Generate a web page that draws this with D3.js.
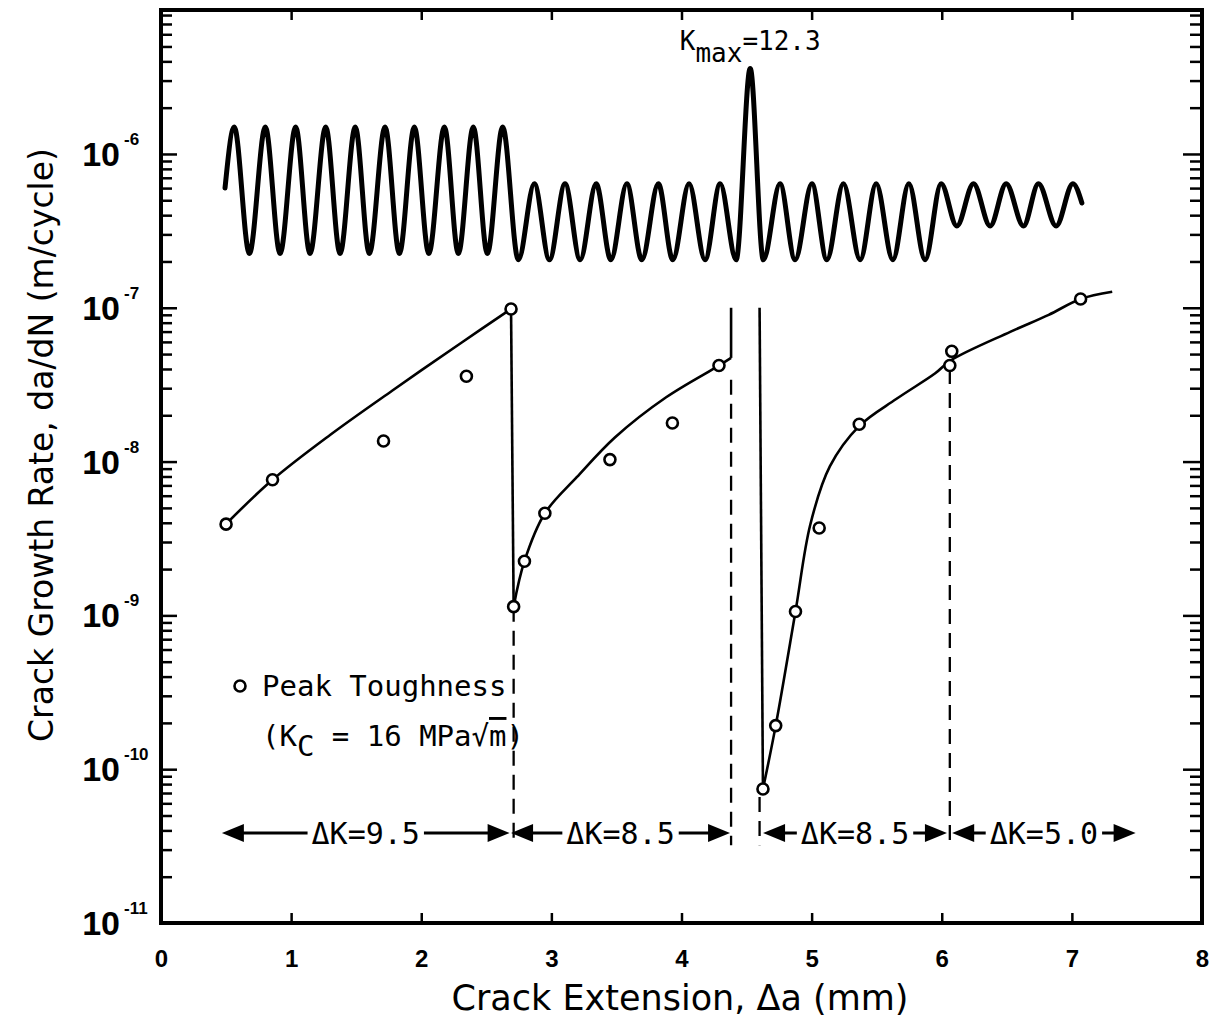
<!DOCTYPE html>
<html>
<head>
<meta charset="utf-8">
<script src="https://cdn.jsdelivr.net/npm/d3@7"></script>
<style>
  body { margin: 0; background: #fff; }
  svg { display: block; }
  .mono { font-family: "DejaVu Sans Mono", monospace; }
</style>
</head>
<body>
<svg id="chart"></svg>
<script>
// measured peak toughness points (crack extension mm, da/dN m/cycle)
const peakX = [0.50, 0.857, 1.71, 2.347, 2.69, 2.71, 2.793, 2.95, 3.45, 3.93, 4.288,
               4.626, 4.724, 4.876, 5.058, 5.366, 6.062, 6.077, 7.067];
const peakRate = [3.92e-9, 7.62e-9, 1.36e-8, 3.59e-8, 9.82e-8, 1.14e-9, 2.25e-9, 4.61e-9, 1.03e-8, 1.78e-8, 4.21e-8,
                  7.43e-11, 1.92e-10, 1.06e-9, 3.70e-9, 1.75e-8, 4.21e-8, 5.21e-8, 1.14e-7];

// hand-fitted curves through the points
const curveAX = [0.50, 0.857, 1.299, 1.776, 2.314, 2.69];
const curveARate = [3.93e-9, 7.62e-9, 1.49e-8, 2.89e-8, 5.97e-8, 9.82e-8];
const curveBX = [2.71, 2.793, 2.95, 3.195, 3.49, 3.882, 4.288, 4.381];
const curveBRate = [1.14e-9, 2.25e-9, 4.61e-9, 7.91e-9, 1.44e-8, 2.62e-8, 4.21e-8, 4.72e-8];
const curveCX = [4.626, 4.724, 4.876, 4.99, 5.14, 5.365, 5.65, 5.95, 6.07, 6.526, 6.822, 7.067, 7.31];
const curveCRate = [7.43e-11, 1.92e-10, 1.06e-9, 3.9e-9, 9.3e-9, 1.70e-8, 2.55e-8, 3.75e-8, 4.55e-8,
                    6.97e-8, 9.0e-8, 1.14e-7, 1.27e-7];

// solid drops [x1, rate1, x2, rate2]
const drops = [
  [2.69, 9.82e-8, 2.71, 1.14e-9],
  [4.381, 1.0e-7, 4.381, 4.72e-8],
  [4.60, 1.0e-7, 4.626, 7.43e-11]
];
// dashed markers [x, rateTop, rateBottom]
const dashes = [
  [2.71, 1.14e-9, 3.2e-11],
  [4.381, 3.4e-8, 3.2e-11],
  [4.60, 6.6e-11, 3.2e-11],
  [6.062, 4.0e-8, 3.2e-11]
];

// loading schematic: turning points of the trace (x mm, rate)
const waveX = [0.492, 0.563, 0.679, 0.802, 0.915, 1.035, 1.145, 1.266, 1.376, 1.493, 1.601, 1.722, 1.832,
               1.947, 2.058, 2.178, 2.285, 2.400, 2.508, 2.626, 2.746, 2.869, 2.985, 3.105, 3.221, 3.344,
               3.457, 3.580, 3.695, 3.822, 3.933, 4.058, 4.181, 4.297, 4.420, 4.528, 4.629, 4.757, 4.873,
               5.002, 5.117, 5.244, 5.373, 5.496, 5.624, 5.747, 5.872, 5.995, 6.116, 6.244, 6.372, 6.495,
               6.628, 6.743, 6.879, 7.008, 7.077];
const waveRate = [6.0e-7, 1.5e-6, 2.25e-7, 1.5e-6, 2.25e-7, 1.5e-6, 2.25e-7, 1.5e-6, 2.25e-7, 1.5e-6, 2.25e-7,
                  1.5e-6, 2.25e-7, 1.5e-6, 2.25e-7, 1.5e-6, 2.25e-7, 1.5e-6, 2.25e-7, 1.5e-6, 2.05e-7,
                  6.4e-7, 2.05e-7, 6.4e-7, 2.05e-7, 6.4e-7, 2.05e-7, 6.4e-7, 2.05e-7, 6.4e-7, 2.05e-7,
                  6.4e-7, 2.05e-7, 6.4e-7, 2.05e-7, 3.6e-6, 2.05e-7, 6.4e-7, 2.05e-7, 6.4e-7, 2.05e-7,
                  6.4e-7, 2.05e-7, 6.4e-7, 2.05e-7, 6.4e-7, 2.05e-7, 6.4e-7, 3.4e-7, 6.4e-7, 3.4e-7,
                  6.4e-7, 3.4e-7, 6.4e-7, 3.4e-7, 6.4e-7, 4.8e-7];
const spikeIndex = 35;

// delta K ranges
const rangeStart = [0.468, 2.69, 4.627, 6.08];
const rangeEnd = [2.679, 4.373, 6.04, 7.49];
const rangeLabel = ["\u0394K=9.5", "\u0394K=8.5", "\u0394K=8.5", "\u0394K=5.0"];
const rangeRate = 3.85e-11;

const xTicks = [0, 1, 2, 3, 4, 5, 6, 7, 8];
const yMajor = [1e-11, 1e-10, 1e-9, 1e-8, 1e-7, 1e-6];
const yExp = ["-11", "-10", "-9", "-8", "-7", "-6"];

const width = 1214, height = 1025;
const svg = d3.select("#chart").attr("width", width).attr("height", height);

const x = d3.scaleLinear().domain([0, 8]).range([161, 1202]);
const y = d3.scaleLog().domain([1e-11, 8.63e-6]).range([923, 10]);

const yMinor = y.ticks().filter(v => yMajor.indexOf(v) < 0 && v < 8.63e-6);

// ticks
function styleAxis(g) {
  g.select(".domain").remove();
  g.selectAll(".tick line").attr("stroke", "#000").attr("stroke-width", 2.5);
}
svg.append("g").attr("transform", "translate(161,0)")
  .call(d3.axisLeft(y).tickValues(yMinor).tickSize(-11).tickFormat("")).call(styleAxis);
svg.append("g").attr("transform", "translate(161,0)")
  .call(d3.axisLeft(y).tickValues(yMajor).tickSize(-16).tickFormat("")).call(styleAxis);
svg.append("g").attr("transform", "translate(1202,0)")
  .call(d3.axisRight(y).tickValues(yMinor).tickSize(-12).tickFormat("")).call(styleAxis);
svg.append("g").attr("transform", "translate(1202,0)")
  .call(d3.axisRight(y).tickValues(yMajor).tickSize(-19).tickFormat("")).call(styleAxis);
svg.append("g").attr("transform", "translate(0,10)")
  .call(d3.axisTop(x).tickValues(xTicks).tickSize(-10).tickFormat("")).call(styleAxis);

let xAxis = svg.append("g").attr("transform", "translate(0,923)")
  .call(d3.axisBottom(x).tickValues(xTicks).tickSizeInner(-10).tickSizeOuter(0).tickPadding(27).tickFormat(d3.format("d")))
  .call(styleAxis);
xAxis.selectAll(".tick text")
  .attr("font-family", "Liberation Sans, Arial, sans-serif")
  .attr("font-weight", "bold").attr("font-size", 24).attr("fill", "#000");

// y tick labels 10^n
let yl = svg.append("g").attr("font-family", "Liberation Sans, Arial, sans-serif").attr("font-weight", "bold");
yMajor.forEach((v, i) => {
  yl.append("text").attr("x", 120).attr("y", y(v) + 12)
    .attr("text-anchor", "end").attr("font-size", 34).text("10");
  yl.append("text").attr("x", 124).attr("y", y(v) - 9)
    .attr("font-size", 17).text(yExp[i]);
});

// frame
svg.append("rect").attr("x", 161).attr("y", 10).attr("width", 1041).attr("height", 913)
  .attr("fill", "none").attr("stroke", "#000").attr("stroke-width", 4);

// axis titles
svg.append("text").attr("x", 680).attr("y", 1010).attr("text-anchor", "middle")
  .attr("font-family", "DejaVu Sans, sans-serif").attr("font-size", 35)
  .text("Crack Extension, \u0394a (mm)");
svg.append("text").attr("transform", "translate(53,445) rotate(-90)").attr("text-anchor", "middle")
  .attr("font-family", "DejaVu Sans, sans-serif").attr("font-size", 33)
  .text("Crack Growth Rate, da/dN (m/cycle)");

// loading trace
const line = d3.line().x(d => x(d[0])).y(d => y(d[1])).curve(d3.curveMonotoneX);
svg.append("path").datum(d3.zip(waveX, waveRate)).attr("d", line)
  .attr("fill", "none").attr("stroke", "#000").attr("stroke-width", 5)
  .attr("stroke-linejoin", "round").attr("stroke-linecap", "round");

let km = svg.append("text").attr("class", "mono").attr("font-size", 26)
  .attr("x", x(waveX[spikeIndex])).attr("y", y(waveRate[spikeIndex]) - 18).attr("text-anchor", "middle");
km.append("tspan").text("K");
km.append("tspan").attr("dy", 12).text("max");
km.append("tspan").attr("dy", -12).text("=12.3");

// dashed markers
svg.append("g").selectAll("line").data(dashes).join("line")
  .attr("x1", d => x(d[0])).attr("x2", d => x(d[0]))
  .attr("y1", d => y(d[1])).attr("y2", d => y(d[2]))
  .attr("stroke", "#000").attr("stroke-width", 2.3).attr("stroke-dasharray", "15 9");

// fitted curves and drops
const fit = d3.line().x(d => x(d[0])).y(d => y(d[1])).curve(d3.curveCatmullRom.alpha(0.5));
[[curveAX, curveARate], [curveBX, curveBRate], [curveCX, curveCRate]].forEach(c => {
  svg.append("path").datum(d3.zip(c[0], c[1])).attr("d", fit)
    .attr("fill", "none").attr("stroke", "#000").attr("stroke-width", 2.6);
});
svg.append("g").selectAll("line").data(drops).join("line")
  .attr("x1", d => x(d[0])).attr("y1", d => y(d[1]))
  .attr("x2", d => x(d[2])).attr("y2", d => y(d[3]))
  .attr("stroke", "#000").attr("stroke-width", 2.6);

// points
svg.append("g").selectAll("circle").data(d3.zip(peakX, peakRate)).join("circle")
  .attr("cx", d => x(d[0])).attr("cy", d => y(d[1])).attr("r", 5.5)
  .attr("fill", "#fff").attr("stroke", "#000").attr("stroke-width", 2.6);

// delta K arrows
let ar = svg.append("g");
const ay = y(rangeRate);
rangeStart.forEach((s, i) => {
  const x1 = x(s), x2 = x(rangeEnd[i]);
  ar.append("line").attr("x1", x1 + 10).attr("x2", x2 - 10).attr("y1", ay).attr("y2", ay)
    .attr("stroke", "#000").attr("stroke-width", 3);
  ar.append("path").attr("d", `M${x1},${ay}L${x1 + 22},${ay - 9}L${x1 + 22},${ay + 9}Z`);
  ar.append("path").attr("d", `M${x2},${ay}L${x2 - 22},${ay - 9}L${x2 - 22},${ay + 9}Z`);
  const t = ar.append("text").attr("class", "mono").attr("font-size", 30)
    .attr("x", (x1 + x2) / 2).attr("y", ay + 11).attr("text-anchor", "middle").text(rangeLabel[i]);
  const bb = t.node().getBBox();
  ar.insert("rect", "text:last-child").attr("x", bb.x - 4).attr("y", ay - 5)
    .attr("width", bb.width + 8).attr("height", 10).attr("fill", "#fff");
});

// legend
let lg = svg.append("g").attr("class", "mono").attr("font-size", 29);
lg.append("circle").attr("cx", 240).attr("cy", 686).attr("r", 5.5)
  .attr("fill", "#fff").attr("stroke", "#000").attr("stroke-width", 2.6);
lg.append("text").attr("x", 262).attr("y", 696).text("Peak Toughness");
let kc = lg.append("text").attr("x", 262).attr("y", 746);
kc.append("tspan").text("(K");
kc.append("tspan").attr("dy", 10).text("C");
kc.append("tspan").attr("dy", -10).text(" = 16 MPa\u221A");
kc.append("tspan").attr("text-decoration", "overline").text("m");
kc.append("tspan").text(")");
</script>
</body>
</html>
